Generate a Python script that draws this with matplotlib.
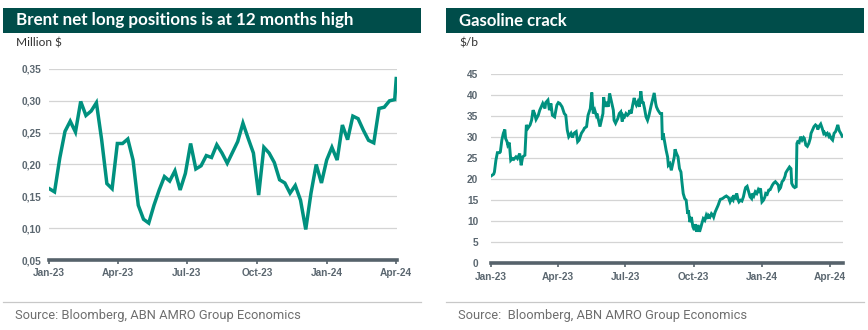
import matplotlib
matplotlib.use("Agg")
import matplotlib.pyplot as plt
import matplotlib.dates as mdates
from matplotlib.patches import Rectangle
from matplotlib.lines import Line2D
from matplotlib.ticker import FuncFormatter
import pandas as pd

# ---------------- data ----------------
brent_title = "Brent net long positions is at 12 months high"
brent_unit = "Million $"
brent_vals = [0.162, 0.157, 0.21, 0.252, 0.268, 0.251, 0.299, 0.277, 0.284, 0.297,
              0.239, 0.17, 0.162, 0.233, 0.233, 0.24, 0.207, 0.136, 0.114, 0.108,
              0.136, 0.16, 0.181, 0.174, 0.19, 0.16, 0.186, 0.233, 0.193, 0.198,
              0.214, 0.211, 0.231, 0.218, 0.202, 0.219, 0.236, 0.265, 0.241, 0.218,
              0.152, 0.227, 0.218, 0.203, 0.176, 0.171, 0.155, 0.167, 0.144, 0.098,
              0.155, 0.2, 0.171, 0.207, 0.227, 0.207, 0.262, 0.239, 0.276, 0.272,
              0.254, 0.238, 0.234, 0.288, 0.29, 0.30, 0.302, 0.335]
brent_start, brent_prev_end, brent_last = "2023-01-01", "2024-03-30", "2024-04-01"
brent_yticks = [0.05, 0.10, 0.15, 0.20, 0.25, 0.30, 0.35]

gas_title = "Gasoline crack"
gas_unit = "$/b"
# days since 2023-01-01
gas_days = [0, 4, 5, 7, 9, 12, 13, 15, 17, 19, 20, 22, 23, 25, 27, 29, 31, 34, 36, 39,
            41, 43, 46, 48, 50, 53, 55, 57, 59, 61, 64, 66, 68, 70, 73, 74, 77, 79, 81, 83,
            86, 89, 91, 93, 96, 99, 101, 103, 105, 108, 110, 112, 115, 117, 119, 122, 125, 126, 129, 131,
            134, 136, 138, 140, 142, 143, 145, 147, 149, 151, 152, 154, 156, 158, 160, 163, 165, 166, 168, 169,
            171, 173, 175, 177, 178, 180, 182, 184, 186, 187, 189, 191, 193, 195, 196, 198, 200, 202, 204, 205,
            207, 209, 211, 213, 214, 216, 218, 220, 222, 223, 225, 228, 230, 231, 232, 234, 236, 238, 239, 241,
            243, 245, 247, 248, 250, 252, 254, 256, 257, 259, 261, 263, 265, 266, 268, 270, 272, 274, 275, 277,
            279, 281, 283, 284, 286, 288, 290, 292, 293, 295, 297, 299, 300, 302, 304, 306, 308, 309, 312, 315,
            317, 320, 322, 324, 326, 327, 329, 331, 333, 334, 336, 338, 340, 342, 343, 345, 347, 349, 351, 352,
            354, 356, 358, 360, 361, 363, 365, 367, 369, 370, 372, 374, 376, 378, 379, 381, 383, 385, 387, 388,
            390, 392, 394, 396, 397, 399, 402, 404, 405, 407, 409, 411, 412, 413, 415, 417, 419, 421, 422, 424,
            426, 428, 430, 431, 433, 435, 437, 439, 440, 442, 444, 446, 448, 449, 451, 453, 455, 456, 458, 460,
            462, 464, 465, 467, 469, 471, 473]
gas_vals = [20.7, 21.2, 21.7, 24.5, 26.3, 26.3, 26.5, 29.3, 30.9, 31.8, 29.7, 28.9, 28.1, 28.7, 24.5, 24.9, 24.7, 25.3, 24.9, 26.1,
            23.3, 25.3, 25.7, 32.9, 32.1, 32.9, 34.0, 36.4, 35.6, 34.2, 35.2, 36.4, 37.2, 38.0, 36.8, 38.2, 38.8, 36.4, 38.0, 35.2,
            34.8, 37.6, 38.2, 38.0, 37.2, 35.6, 35.2, 31.7, 30.1, 30.9, 29.9, 30.9, 31.3, 28.9, 29.3, 30.9, 31.7, 32.1, 32.5, 35.2,
            36.8, 40.6, 35.6, 36.4, 35.2, 35.6, 34.0, 32.5, 34.0, 35.6, 39.5, 37.2, 38.4, 37.2, 40.4, 38.0, 36.4, 34.0, 33.3, 33.7,
            34.4, 35.6, 36.0, 33.7, 35.2, 34.8, 35.6, 35.2, 35.6, 36.4, 35.6, 37.6, 39.3, 38.0, 37.6, 38.4, 37.2, 40.9, 38.0, 38.4,
            36.8, 34.8, 34.0, 35.2, 36.0, 37.6, 39.0, 40.5, 38.0, 37.2, 36.4, 35.6, 35.6, 29.3, 30.9, 28.9, 26.9, 25.3, 23.3, 23.7,
            22.1, 23.7, 25.3, 27.1, 26.1, 25.3, 22.5, 21.7, 19.8, 16.6, 15.4, 15.0, 11.8, 12.6, 9.8, 11.0, 8.7, 7.9, 9.3, 7.5,
            9.1, 7.5, 8.7, 9.4, 10.6, 10.2, 11.4, 10.6, 11.4, 11.0, 11.8, 11.4, 11.0, 12.2, 13.0, 13.8, 14.8, 15.2, 15.4, 15.8,
            16.0, 15.6, 14.6, 15.4, 15.0, 16.2, 15.2, 16.6, 15.0, 14.6, 15.0, 14.8, 15.8, 17.4, 18.0, 18.3, 17.0, 15.8, 15.4, 16.6,
            16.0, 17.0, 16.6, 17.5, 17.2, 17.8, 14.6, 15.0, 15.8, 16.6, 16.4, 17.4, 17.5, 18.2, 18.6, 19.1, 19.4, 19.0, 18.6, 17.5,
            18.0, 19.4, 19.8, 20.7, 21.5, 22.1, 22.9, 22.5, 19.0, 18.3, 18.0, 18.2, 28.5, 28.9, 28.7, 30.1, 29.3, 29.9, 29.7, 28.1,
            27.8, 28.5, 29.7, 30.9, 31.7, 32.5, 32.9, 32.6, 31.8, 32.6, 33.1, 32.1, 30.9, 31.1, 30.5, 30.9, 30.2, 30.5, 29.7, 29.3,
            30.9, 31.3, 31.8, 32.9, 31.5, 30.9, 30.2]
gas_yticks = [0, 5, 10, 15, 20, 25, 30, 35, 40, 45]

month_ticks = ["2023-01-01", "2023-04-01", "2023-07-01", "2023-10-01", "2024-01-01", "2024-04-01"]
month_labels = ["Jan-23", "Apr-23", "Jul-23", "Oct-23", "Jan-24", "Apr-24"]
source_left = "Source: Bloomberg, ABN AMRO Group Economics"
source_right = "Source:  Bloomberg, ABN AMRO Group Economics"

# ---------------- style ----------------
W, H = 868, 330
BAR = "#004d4a"
LINE = "#00917f"
TICK = "#5b6770"
AXIS = "#56626b"
GRID = "#d4d4d4"

fig = plt.figure(figsize=(W / 100, H / 100), dpi=100)
fig.patch.set_facecolor("white")
renderer = fig.canvas.get_renderer()


def fx(px):
    return px / W


def fy(py):
    return 1 - py / H


def fit_text(x, y, s, target_w, **kw):
    t = fig.text(x, y, s, **kw)
    w = t.get_window_extent(renderer).width
    t.set_fontsize(t.get_fontsize() * target_w / w)
    return t


def panel(x0, x1, title, title_w, unit, unit_w, source, source_w,
          ax_rect, dates, vals, xlim, ylim, yticks, yfmt, lw, ypad):
    fig.add_artist(Rectangle((fx(x0), fy(33)), fx(x1) - fx(x0), fy(8) - fy(33),
                             transform=fig.transFigure, facecolor=BAR, edgecolor="none"))
    fit_text(fx(x0 + 13), fy(20.5), title, title_w, color="white", fontsize=12,
             fontweight="bold", family="Lato", va="center", ha="left")
    fit_text(fx(x0 + 13), fy(43.5), unit, unit_w, color="#333333", fontsize=8.5,
             family="Lato", va="center", ha="left")
    fig.add_artist(Line2D([fx(x0), fx(x1)], [fy(301.5), fy(301.5)], transform=fig.transFigure,
                          color="#c8c8c8", lw=0.9))
    fit_text(fx(x0 + 12), fy(316), source, source_w, color="#6e6e6e", fontsize=8.5,
             family="Roboto", va="center", ha="left")

    l, r, t, b = ax_rect
    ax = fig.add_axes([fx(l), fy(b), fx(r) - fx(l), fy(t) - fy(b)])
    ax.plot(pd.to_datetime(dates), vals, color=LINE, lw=lw, solid_joinstyle="miter", zorder=3)
    ax.set_xlim(pd.to_datetime(xlim[0]), pd.to_datetime(xlim[1]))
    ax.set_ylim(*ylim)
    ax.set_yticks(yticks)
    ax.yaxis.set_major_formatter(FuncFormatter(yfmt))
    ax.set_xticks(pd.to_datetime(month_ticks))
    ax.set_xticklabels(month_labels)
    ax.grid(axis="y", color=GRID, lw=0.9)
    ax.set_axisbelow(True)
    for s in ("top", "right", "left"):
        ax.spines[s].set_visible(False)
    ax.spines["bottom"].set_color(AXIS)
    ax.spines["bottom"].set_linewidth(2.6)
    ax.spines["bottom"].set_zorder(4)
    ax.tick_params(axis="y", length=0, pad=ypad, labelsize=7.3, labelcolor=TICK)
    ax.tick_params(axis="x", length=3, width=1.2, color=AXIS, pad=3, labelsize=7.3, labelcolor=TICK)
    for lab in ax.get_xticklabels() + ax.get_yticklabels():
        lab.set_fontweight("bold")
        lab.set_family("Liberation Sans")
    ax.set_facecolor("none")
    return ax


brent_dates = list(pd.date_range(brent_start, brent_prev_end, periods=len(brent_vals) - 1)) + [pd.Timestamp(brent_last)]
gas_dates = pd.Timestamp("2023-01-01") + pd.to_timedelta(gas_days, unit="D")

panel(3, 421, brent_title, 336, brent_unit, 46, source_left, 282,
      (49.3, 397, 69, 260), brent_dates, brent_vals,
      ("2023-01-01", "2024-04-02"), (0.05, 0.35), brent_yticks,
      lambda v, p: f"{v:.2f}".replace(".", ","), 2.5, 6)

panel(446, 864, gas_title, 108, gas_unit, 19, source_right, 284,
      (490.7, 843, 74, 263.3), gas_dates, gas_vals,
      ("2023-01-01", "2024-04-19"), (0, 45), gas_yticks,
      lambda v, p: f"{v:.0f}", 2.1, 9)

fig.savefig("out.png", dpi=100, facecolor="white")
